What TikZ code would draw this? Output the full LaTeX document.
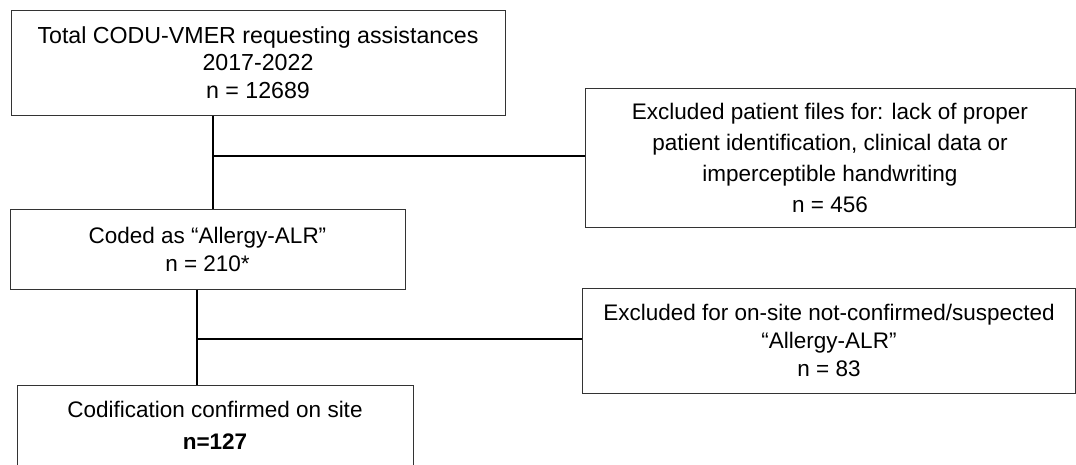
\documentclass[tikz,border=0pt]{standalone}
\usepackage{fontspec}
\setmainfont{Liberation Sans}
\usetikzlibrary{calc}

\begin{document}
\begin{tikzpicture}[x=1pt,y=-1pt,
        box/.style={draw=black!80,line width=1pt,align=center,inner sep=0pt,font=\fontsize{22.5}{28}\selectfont},
        link/.style={draw=black,line width=2pt}]
        \useasboundingbox (0,0) rectangle (1076,464);

        % main column
        \node[box,minimum width=494pt,minimum height=105pt,font=\fontsize{23.2}{27.5}\selectfont] (total) at (258,62.5) {Total CODU-VMER requesting assistances\\2017-2022\\n = 12689};
        \node[box,minimum width=395pt,minimum height=80pt] (coded) at (207.5,249) {Coded as “Allergy-ALR”\\n = 210*};
        \node[box,minimum width=396pt,minimum height=80pt,font=\fontsize{22.5}{32}\selectfont] (confirmed) at (215,425) {Codification confirmed on site\\\textbf{n=127}};

        % exclusions
        \node[box,minimum width=490pt,minimum height=139pt,font=\fontsize{22.5}{31}\selectfont] (exclfiles) at (830,157.5) {Excluded patient files for: lack of proper\\patient identification, clinical data or\\imperceptible handwriting\\n = 456};
        \node[box,minimum width=493pt,minimum height=105pt] (exclsite) at (829,340.5) {Excluded for on-site not-confirmed/suspected\\“Allergy-ALR”\\n = 83};

        \coordinate (split1) at (213,156);
        \coordinate (split2) at (197,339);

        \draw[link] (total.south -| split1) -- (coded.north -| split1);
        \draw[link] (split1) -- (exclfiles.west |- split1);
        \draw[link] (coded.south -| split2) -- (confirmed.north -| split2);
        \draw[link] (split2) -- (exclsite.west |- split2);
\end{tikzpicture}
\end{document}
